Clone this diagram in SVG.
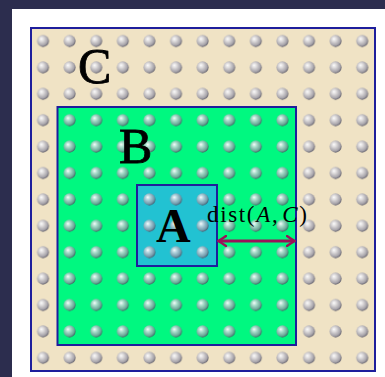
<svg xmlns="http://www.w3.org/2000/svg" width="385" height="377" viewBox="0 0 385 377">
<style>
.region{stroke:#1e1e9c;stroke-width:2}
.lbl{font-family:"Liberation Serif","DejaVu Serif",serif;fill:#000}
.big{stroke:#000;stroke-width:0.8}
.conn{stroke:#9a1258;stroke-width:3;fill:none}
</style>
<defs>
<radialGradient id="ball" cx="0.42" cy="0.4" r="0.6" fx="0.36" fy="0.32">
<stop offset="0" stop-color="#ffffff" stop-opacity="1"/>
<stop offset="0.3" stop-color="#dcdce4" stop-opacity="0.8"/>
<stop offset="0.8" stop-color="#8e8ea0" stop-opacity="0.75"/>
<stop offset="1" stop-color="#4e4e60" stop-opacity="0.85"/>
</radialGradient>
<pattern id="dots" patternUnits="userSpaceOnUse" x="29.7" y="27.8" width="26.6" height="26.4">
<circle cx="13.3" cy="13.2" r="6" fill="url(#ball)"/>
</pattern>
<marker id="chev" viewBox="0 0 10 12" refX="8" refY="6" markerWidth="10" markerHeight="12" markerUnits="userSpaceOnUse" orient="auto-start-reverse">
<path d="M1,1 Q5,4 9,6 Q5,8 1,11" fill="none" stroke="#9a1258" stroke-width="2.4" stroke-linecap="round"/>
</marker>
</defs>
<rect x="0" y="0" width="385" height="377" fill="#2c2d4e"/>
<rect x="12" y="9" width="373" height="368" fill="#ffffff"/>
<g id="C">
<rect class="region" x="31" y="28" width="344" height="343" fill="#f0e3c5"/>
</g>
<g id="B">
<rect class="region" x="57.5" y="107" width="238.5" height="238" fill="#00f880"/>
</g>
<g id="A">
<rect class="region" x="137" y="185" width="80" height="81" fill="#22c2d2"/>
</g>
<rect x="30" y="28" width="346" height="343" fill="url(#dots)"/>
<text class="lbl big" x="78" y="83" font-size="50">C</text>
<text class="lbl big" x="119" y="163" font-size="50">B</text>
<text class="lbl" x="156" y="242" font-size="48" font-weight="bold">A</text>
<g id="connectors">
<line class="conn" x1="219" y1="241" x2="294" y2="241" marker-start="url(#chev)" marker-end="url(#chev)"/>
<text class="lbl" x="207" y="222" font-size="23" textLength="100" lengthAdjust="spacing">dist(<tspan font-style="italic">A</tspan>,<tspan dx="3" font-style="italic">C</tspan>)</text>
</g>
</svg>
